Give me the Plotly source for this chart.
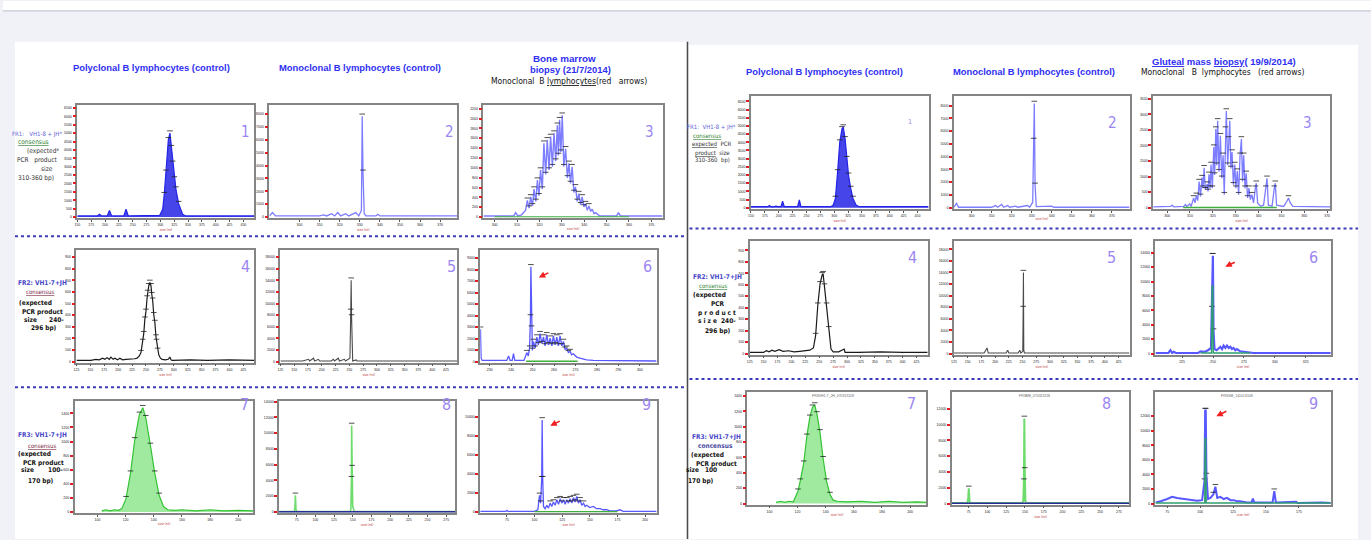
import plotly.graph_objects as go

W, H = 1371, 540

# ---------------- DATA (bp, signal as % of panel full scale) ----------------
# Left half (bone marrow biopsy, 21/7/2014)
L1_trace = [(150,1),(186,1),(190,2.5),(194,1),(204,1),(208,6),(212,1),(234,1),(238,7),(242,1),
            (298.7,1.5),(304.2,7),(307,20),(310.1,40),(314.4,69),(317.3,75),(320,62),(322.2,48),
            (325.3,34),(328.1,25),(333,12),(340.2,2.6),(346,1),(470,1)]
L2_trace = [(285,1),(286.5,4),(288,1),(310,1),(312,2),(313.5,1),(316,3),(317.5,1),(319,4),(320.5,1),
            (323,3),(324.5,1),(328,4),(329.5,1),(330.8,6),(331.2,90),(331.6,40),(332.2,3),(333,1),
            (338,1),(339,2.5),(340,1),(378.4,1)]
L3_trace = [(295,1),(305,1),(308.5,1),(309.4,4),(310.3,1),(312,2),(313.8,6),(314.6,15),(315.4,8),
            (316.1,18),(316.9,10),(317.6,25),(318.4,14),(319.1,33),(319.8,19),(320.5,42),(321.3,25),
            (322.0,66),(322.8,38),(323.5,69),(324.3,42),(325.0,72),(325.8,45),(326.5,75),(327.3,50),
            (328.0,82),(328.5,55),(329.0,87),(329.6,58),(330.2,91),(330.9,45),(331.7,61),(332.5,35),
            (333.2,48),(333.9,30),(334.6,45),(335.4,22),(336.1,27),(336.9,14),(337.6,21),(338.4,11),
            (339.1,18),(339.9,9),(340.6,12),(341.4,6),(342.1,10),(342.9,5),(343.6,7),(344.4,3),
            (345.1,4),(347,1),(350,1),(354.5,1),(355.3,4),(356.2,1),(360,1),(375,1)]
L4_trace = [(125,1),(151,1),(160,2),(166,1.5),(172,3),(176,2),(180,3.5),(184,2),(187,4),(191,2),
            (194,3),(199,1.5),(203,3),(208,1.5),(214,2),(223,2),(230,2.5),(234,3),(238,5),(241,8),
            (244,18),(246,25),(248,38),(250,45),(252,57),(253,62),(255,68),(257,71),(259,68),
            (260.5,60),(262,55),(264,42),(266,35),(268,22),(269,18),(271,10),(273,6),(276,3),
            (279,2),(285,1.5),(290,2),(293,4),(295,1.5),(297,1),(330,1.5),(360,1),(400,1.5),(445,1)]
L5_trace = [(125,0.5),(165,0.5),(176,2),(178,0.5),(185,3),(187,0.5),(194,2),(196,0.5),(217,0.5),
            (221,2),(223,0.5),(230,3),(232,0.5),(241,2),(243,0.5),(251,3),(252.5,45),(253.2,73),
            (254,40),(254.7,3),(256,0.5),(262,1.5),(264,0.5),(445,0.5)]
L6_trace = [(225.7,29),(226.0,3),(226.5,1),(238,1),(238.8,5),(239.5,1),(240.5,1),(241.1,7),
            (241.7,1),(246,1),(247.3,8),(248,5),(248.6,12),(249.0,40),(249.2,85),(249.5,30),
            (249.9,10),(250.4,18),(251.2,12),(252.0,22),(252.7,15),(253.5,25),(254.3,16),(255.1,22),
            (255.8,14),(256.6,24),(257.4,15),(258.2,21),(259.0,14),(259.7,23),(260.5,15),(261.3,22),
            (262.0,14),(262.8,23),(263.6,14),(264.4,18),(265.1,11),(265.9,12),(266.7,8),(267.5,9),
            (268.2,6),(269.0,7),(270.6,4),(272.1,3),(273.7,2),(275.2,1.5),(278.3,1),(307.8,0.5)]
L6_green = [(247,0.3),(271,0.3)]
L7_trace = [(103.1,1),(106,2),(109,1),(112,2),(115,1.5),(117.3,3),(120.3,12),(123.5,35),
            (126.5,65),(129.8,88),(132.2,94),(134.3,85),(137.6,60),(140.7,35),(143.8,15),
            (146.9,5),(149.9,2),(155,1.5),(160,2),(170,1),(180,2),(190,1),(200,1.5),(210.8,1)]
L8_trace = [(51.5,0.5),(72,0.5),(72.8,5),(73.3,15),(74,3),(75,0.5),(146,0.5),(147.5,2),
            (148.3,30),(148.6,78),(149.2,40),(150,5),(151,1),(152,0.5),(286.8,0.5)]
L8_blue = [(51.5,0.3),(286.8,0.3)]
L9_trace = [(50.9,0.5),(74,0.5),(75,1.5),(76,0.5),(100,0.5),(103,2),(104.5,15),(105.5,8),
            (106.5,30),(106.9,83),(107.4,30),(108.1,5),(109.6,3),(111.1,6),(112.6,3.5),(114.1,8),
            (115.6,5),(117.1,9),(118.6,6),(120.2,11),(121.7,7),(123.2,12),(124.7,8),(126.2,11),
            (127.7,7),(129.2,11),(130.7,8),(132.2,12),(133.7,8),(135.2,13),(136.7,9),(138.2,14),
            (139.7,8),(141.2,11),(142.7,6),(144.3,8),(145.8,5),(147.3,6),(150,4),(153.3,5),(156,3),
            (159.3,3),(162,2),(165.3,2),(168,1),(171.3,1),(174,1),(177.4,2),(180,0.5),(210.4,0.5)]

# Right half (gluteal mass biopsy, 19/9/2014)
R1_trace = [(150,1),(180,1),(183.3,2),(186,1),(192,1),(195.1,1.5),(198,1),(204,1),(207,6),(210,1),
            (234,1),(237.2,7),(240,1),(294,1),(298.2,2.4),(302.1,8.3),(306.1,32),(310.0,58.6),
            (314.0,70.4),(316.3,72),(319.6,61.5),(322.6,43.8),(325.8,29),(329.8,17.2),(333.8,8.3),
            (339.3,2.4),(345,1),(470,1)]
R2_trace = [(291.2,0.5),(292.5,4),(293.5,0.5),(310,0.5),(312,2),(313,0.5),(315,3),(316,0.5),
            (318,2),(319,0.5),(322,1.5),(323,0.5),(328,2),(329,0.5),(330.5,5),(331.0,60),
            (331.3,93),(331.7,20),(332.3,1),(340,1.5),(341,0.5),(378.8,0.5)]
R3_trace = [(293.9,0.9),(301.5,1.2),(302.2,2.3),(302.9,0.9),(307.3,1.2),(308.0,2.9),(308.7,1.2),
            (309.9,3.5),(310.5,1.2),(311.6,8.8),(312.2,4.4),(312.8,11.1),(313.4,6.4),(314.0,23.4),
            (314.6,10.2),(315.3,26.9),(315.7,17.5),(316.2,35.7),(316.7,16.1),(317.5,21.1),
            (317.9,14.6),(318.3,29.8),(318.8,17.5),(319.2,38.6),(319.8,17.5),(320.4,54.1),
            (320.8,29.2),(321.3,70.2),(321.7,38.0),(322.1,77.5),(322.7,32.2),(323.3,64.3),
            (323.9,26.3),(324.5,46.8),(325.0,11.7),(325.5,70.2),(325.9,86.3),(326.5,38.0),
            (326.9,61.4),(327.4,77.5),(327.9,35.1),(328.4,49.7),(329.0,20.5),(329.6,38.6),
            (330.1,17.5),(330.7,32.7),(331.3,11.7),(331.9,46.8),(332.5,61.4),(333.0,23.4),
            (333.5,46.8),(334.1,17.5),(334.6,30.7),(335.2,8.8),(335.8,17.5),(336.4,7.3),
            (337.1,11.7),(337.8,4.4),(338.6,17.5),(339.0,21.9),(339.6,4.4),(340.8,1.5),(342.2,2.3),
            (343.2,17.5),(343.7,26.3),(344.3,2.3),(345.9,1.5),(346.9,17.5),(347.3,21.9),(347.9,2.3),
            (351.0,1.2),(352.4,5.8),(353.1,8.8),(353.9,4.4),(355.0,1.2),(371.3,0.9)]
R3_green = [(307,0.3),(348,0.3)]
R4_trace = [(125,1),(150,1),(155,2.5),(160,1.5),(165,3),(170,2),(178,3.5),(185,2),(195,2.5),
            (205,1.5),(215,2),(225,2.5),(233,3),(239.6,5),(243.6,16),(247.5,43),(251.5,62),
            (255.4,70),(257.0,71),(259.4,60),(263.3,43),(267.3,22),(271.2,4),(275.2,1.5),(285,1.5),
            (294.9,4),(296.5,1),(320,1),(360,1.5),(400,1),(445,1)]
R5_trace = [(125,0.5),(180,0.5),(183,3),(185.4,5),(187.5,0.5),(220,0.5),(223,3),(225,0.5),
            (242,0.5),(245,3),(247,0.5),(250.5,2),(251.2,40),(251.7,72),(252.3,3),(253.5,0.5),(445,0.5)]
R6_trace = [(203.5,0.5),(214,0.5),(215.6,3),(217,0.5),(218.3,1.5),(220,0.5),(238,0.5),(240,2),
            (243,1.5),(246,3),(248.4,5),(249.0,40),(249.5,87),(249.9,87),(250.4,20),(251.2,4),
            (253,3),(255.9,6),(257.3,4),(258.6,7),(260,5),(261.3,7),(262.7,5),(264.0,6),(265.3,4),
            (266.6,5),(268,3),(269.3,4),(272.0,2),(277.4,1),(282.8,0.5),(345.2,0.5)]
R6_green = [(240,0.5),(248.8,0.5),(249.3,60),(249.8,60),(250.2,0.5),(280,0.5)]
R7_trace = [(104.7,1),(108,2),(111,1),(114,2),(117,1.5),(120.3,11),(121.9,20),(124.4,36),
            (126.6,60),(128.7,77),(130.6,86),(132.2,88),(133.8,80),(135.9,64),(138.2,40),
            (140.6,20),(143.1,8),(145.3,3),(148.4,2),(155,1.5),(165,2),(175,1),(185,2),(195,1),
            (205,1.5),(211.6,1)]
R8_trace = [(52.7,0.5),(73.5,0.5),(74.5,5),(75.3,13.5),(76.2,3),(77,0.5),(146,0.5),(147.8,2),
            (148.6,20),(149.2,76),(149.8,30),(150.6,2),(152,0.5),(288.5,0.5)]
R8_blue = [(52.7,0.3),(288.5,0.3)]
R9_trace = [(66.1,1),(70,2),(75,4),(78.7,6),(82.5,5),(87.6,4),(92.6,3),(97.7,2.5),(101.5,3),
            (103.3,20),(103.8,83),(104.3,83),(104.8,25),(106,4),(107.8,5),(110,8),(111.6,15),(113,5),
            (115.3,6),(118,4),(120.4,5),(123,3),(125.5,3),(128,2),(130.5,2),(135.5,1),(139,1),
            (140.1,4.4),(141,1),(155,1),(156.3,11),(157.5,1),(172.9,1.5),(174,0.5),(192.4,1),(199.2,0.5)]
R9_green = [(66.1,0.5),(103.5,0.5),(103.8,58),(104.2,58),(104.6,0.5),(199.2,0.5)]

# x tick labels (bp)
XT_FR1_POLY = [150,175,200,225,250,275,300,325,350,375,400,425,450]
XT_FR1_MONO = [300,310,320,330,340,350,360,370]
XT_FR2 = [125,150,175,200,225,250,275,300,325,350,375,400,425]
XT_FR2_BM = [230,240,250,260,270,280,290,300]
XT_FR2_GM = [225,250,275,300,325]
XT_FR3_POLY = [100,120,140,160,180,200]
XT_FR3_MONO = [75,100,125,150,175,200,225,250,275]
XT_FR3_BM = [75,100,125,150,175,200]
XT_FR3_GM = [75,100,125,150,175]

# y tick labels (RFU)
YT_L1 = [0,500,1000,1500,2000,2500,3000,3500,4000,4500,5000,5500,6000,6500]
YT_L2 = [0,1000,2000,3000,4000,5000,6000,7000,8000]
YT_L3 = [0,200,400,600,800,1000,1200,1400,1600,1800,2000,2200]
YT_L4 = [0,100,200,300,400,500,600,700,800,900]
YT_L5 = [0,2000,4000,6000,8000,10000,12000,14000,16000,18000]
YT_L6 = [0,1000,2000,3000,4000,5000,6000,7000,8000,9000]
YT_L7 = [0,200,400,600,800,1000,1200,1400]
YT_L8 = [0,2000,4000,6000,8000,10000,12000,14000]
YT_L9 = [0,2000,4000,6000,8000,10000]
YT_R1 = [0,500,1000,1500,2000,2500,3000,3500,4000,4500,5000,5500,6000,6500]
YT_R2 = [0,1000,2000,3000,4000,5000,6000,7000,8000]
YT_R3 = [0,500,1000,1500,2000,2500,3000,3500]
YT_R4 = [0,100,200,300,400,500,600,700,800,900]
YT_R5 = [0,2000,4000,6000,8000,10000,12000,14000,16000,18000]
YT_R6 = [0,2000,4000,6000,8000,10000,12000,14000]
YT_R7 = [0,200,400,600,800,1000,1200,1400]
YT_R8 = [0,2000,4000,6000,8000,10000,12000]
YT_R9 = [0,2000,4000,6000,8000,10000,12000]

PANEL_NUMBERS = ["1","2","3","4","5","6","7","8","9"]

# ---------------- STYLE / LAYOUT ----------------
BLUE_DARK = "#2424e6"
BLUE_LIGHT = "#7d7dff"
BLUE_MID = "#5858ff"
BLACK = "#1a1a1a"
GRAY = "#4a4a4a"
GREEN = "#34c234"
GREEN_L = "#6ddc6d"

panels = [
    dict(d=L1_trace, box=(74.5,252,104.5,218), xr=(150,470), xt=XT_FR1_POLY, yt=YT_L1, ys=7.5,
         color=BLUE_DARK, w=1.2, fill="rgba(36,36,230,0.85)", num=(237,120,15)),
    dict(d=L2_trace, box=(267,455,104.5,218), xr=(285,378.4), xt=XT_FR1_MONO, yt=YT_L2, ys=11.5,
         color=BLUE_LIGHT, w=1.3, fill=None, num=(441,120,15)),
    dict(d=L3_trace, box=(481.5,661,104.5,218), xr=(295,375), xt=XT_FR1_MONO, yt=YT_L3, ys=8.8,
         color=BLUE_LIGHT, w=1.4, fill=None, num=(648,120,15)),
    dict(d=L4_trace, box=(73.6,252,250,363), xr=(125,445), xt=XT_FR2, yt=YT_L4, ys=10.4,
         color=BLACK, w=1.2, fill=None, num=(237,266,16)),
    dict(d=L5_trace, box=(278,455,250,363), xr=(125,445), xt=XT_FR2, yt=YT_L5, ys=10.4,
         color=GRAY, w=1.1, fill=None, num=(443,266,16)),
    dict(d=L6_trace, box=(478.3,655,250,363), xr=(225.6,307.8), xt=XT_FR2_BM, yt=YT_L6, ys=10.3,
         color=BLUE_MID, w=1.3, fill=None, num=(646,266,16)),
    dict(d=L7_trace, box=(71.8,251,401.5,514), xr=(83.8,210.8), xt=XT_FR3_POLY, yt=YT_L7, ys=12.7,
         color=GREEN, w=1.2, fill="rgba(120,225,120,0.7)", num=(236,417,16)),
    dict(d=L8_trace, box=(276.7,453,401.5,514), xr=(51.5,286.8), xt=XT_FR3_MONO, yt=YT_L8, ys=14.2,
         color=GREEN_L, w=1.6, fill=None, num=(438,417,16)),
    dict(d=L9_trace, box=(478.3,655,401.5,514), xr=(50.9,210.4), xt=XT_FR3_BM, yt=YT_L9, ys=17.1,
         color=BLUE_MID, w=1.3, fill=None, num=(645,417,16)),
    dict(d=R1_trace, box=(749.6,927.6,95,208.7), xr=(150,470), xt=XT_FR1_POLY, yt=YT_R1, ys=7.3,
         color=BLUE_DARK, w=1.2, fill="rgba(36,36,230,0.85)", num=(909,115,7)),
    dict(d=R2_trace, box=(953,1129,95,208.7), xr=(291.2,378.8), xt=XT_FR1_MONO, yt=YT_R2, ys=11.4,
         color=BLUE_LIGHT, w=1.3, fill=None, num=(1118,111,15)),
    dict(d=R3_trace, box=(1152.7,1330,95,208.7), xr=(293.9,371.3), xt=XT_FR1_MONO, yt=YT_R3, ys=13.9,
         color=BLUE_LIGHT, w=1.3, fill=None, num=(1314,111,15)),
    dict(d=R4_trace, box=(748.3,926.7,241,355), xr=(125,445), xt=XT_FR2, yt=YT_R4, ys=10.2,
         color=BLACK, w=1.2, fill=None, num=(911,257,16)),
    dict(d=R5_trace, box=(953,1129,241,355), xr=(125,445), xt=XT_FR2, yt=YT_R5, ys=10.3,
         color=GRAY, w=1.1, fill=None, num=(1117,257,16)),
    dict(d=R6_trace, box=(1155,1330.7,241,355), xr=(203.5,345.2), xt=XT_FR2_GM, yt=YT_R6, ys=12.8,
         color=BLUE_MID, w=2.2, fill=None, num=(1320,257,16)),
    dict(d=R7_trace, box=(746.1,925.4,392,505.5), xr=(84.4,211.6), xt=XT_FR3_POLY, yt=YT_R7, ys=13.7,
         color=GREEN, w=1.2, fill="rgba(120,225,120,0.7)", num=(910,416,16)),
    dict(d=R8_trace, box=(950.9,1128.5,392,505.5), xr=(52.7,288.5), xt=XT_FR3_MONO, yt=YT_R8, ys=14.1,
         color=GREEN_L, w=2.0, fill=None, num=(1112,416,16)),
    dict(d=R9_trace, box=(1155,1330.7,392,505.5), xr=(66.1,199.2), xt=XT_FR3_GM, yt=YT_R9, ys=13.0,
         color=BLUE_MID, w=2.0, fill=None, num=(1320,416,16)),
]
panel_labels = PANEL_NUMBERS * 2

extras = [  # (panel index 0-based, data, color, width)
    (5, L6_green, "#3fae3f", 1.5),
    (7, L8_blue, "#2a2a9a", 1.5),
    (11, R3_green, "#3fae3f", 1.5),
    (14, R6_green, "#2f9f6f", 1.4),
    (16, R8_blue, "#2a2a9a", 1.5),
    (17, R9_green, "#2f9f6f", 1.4),
    (2, [(300,0.3),(360,0.3)], "#3fae3f", 1.2),
    (8, [(100,0.3),(175,0.3)], "#3fae3f", 1.2),
]

fig = go.Figure()
layout = {}
annotations = []
NARROW = "Liberation Sans Narrow, Arial Narrow, DejaVu Sans Condensed, sans-serif"
SANS = "Liberation Sans, Arial, sans-serif"

for i, p in enumerate(panels, start=1):
    xs = [a for a, b in p["d"]]
    ys = [b for a, b in p["d"]]
    xa = "x" if i == 1 else f"x{i}"
    ya = "y" if i == 1 else f"y{i}"
    fig.add_trace(go.Scatter(
        x=xs, y=ys, xaxis=xa, yaxis=ya, mode="lines",
        line=dict(color=p["color"], width=p["w"]),
        fill="tozeroy" if p["fill"] else None, fillcolor=p["fill"],
        hoverinfo="skip", showlegend=False))
    lx = [a for a, b in p["d"] if b >= 8]
    ly = [b + 2 for a, b in p["d"] if b >= 8]
    fig.add_trace(go.Scatter(
        x=lx, y=ly, xaxis=xa, yaxis=ya, mode="markers",
        marker=dict(symbol="line-ew", size=4, line=dict(color="#222222", width=0.8)),
        hoverinfo="skip", showlegend=False))
    l, r, t, b = p["box"]
    layout["xaxis" if i == 1 else f"xaxis{i}"] = dict(
        domain=[l / W, r / W], anchor=ya, range=list(p["xr"]),
        tickvals=p["xt"], ticktext=[str(v) for v in p["xt"]],
        tickfont=dict(size=3.5, color="#222", family=SANS), ticks="outside", ticklen=2,
        tickcolor="#555", tickwidth=1,
        showline=True, mirror=True, linecolor="#858585", linewidth=1.6,
        showgrid=False, zeroline=False,
        title=dict(text="size (nt)", font=dict(size=3.5, color="#b83030"), standoff=1))
    layout["yaxis" if i == 1 else f"yaxis{i}"] = dict(
        domain=[1 - b / H, 1 - t / H], anchor=xa, range=[-1, 100],
        tickvals=[k * p["ys"] for k in range(len(p["yt"]))],
        ticktext=[str(v) for v in p["yt"]],
        tickfont=dict(size=3.5, color="#222", family=SANS), ticks="outside", ticklen=3,
        tickcolor="#e02020", tickwidth=2,
        showline=True, mirror=True, linecolor="#858585", linewidth=1.6,
        showgrid=False, zeroline=False)
    nx, ny, ns = p["num"]
    annotations.append(dict(x=nx / W, y=1 - ny / H, xref="paper", yref="paper",
                            text=panel_labels[i - 1], showarrow=False,
                            font=dict(size=ns, color="#9b86f2", family=NARROW)))

for idx, dd, col, wd in extras:
    i = idx + 1
    xa = "x" if i == 1 else f"x{i}"
    ya = "y" if i == 1 else f"y{i}"
    fig.add_trace(go.Scatter(x=[a for a, b in dd], y=[b for a, b in dd], xaxis=xa, yaxis=ya,
                             mode="lines", line=dict(color=col, width=wd),
                             hoverinfo="skip", showlegend=False))

def txt(x, y, s, size=6, color="#222", bold=False, family=SANS, anchor="center"):
    if bold:
        s = f"<b>{s}</b>"
    annotations.append(dict(x=x / W, y=1 - y / H, xref="paper", yref="paper", text=s,
                            showarrow=False, xanchor=anchor, yanchor="middle",
                            font=dict(size=size, color=color, family=family)))

HB = "#2f2ff2"
# headers left
txt(148.5, 67, "Polyclonal B lymphocytes (control)", 9.4, HB, True)
txt(358, 67, "Monoclonal B lymphocytes (control)", 9.4, HB, True)
txt(563, 57.5, "Bone marrow", 9.8, HB, True)
txt(569, 69, "biopsy (21/7/2014)", 9.4, HB, True)
txt(567, 80, "Monoclonal  B <u>lymphocytes</u>(red   arrows)", 8.5, "#111", False, NARROW)
# headers right
txt(823, 70.5, "Polyclonal B lymphocytes (control)", 9.4, HB, True)
txt(1033, 70.5, "Monoclonal B lymphocytes (control)", 9.4, HB, True)
txt(1224, 61, "<u>Gluteal</u> mass <u>biopsy</u>( 19/9/2014)", 9.5, HB, True)
txt(1223, 71.5, "Monoclonal   B  lymphocytes   (red arrows)", 8.5, "#111", False, NARROW)

# left side labels, left half
txt(34, 133, "FR1:   VH1-8 + JH*", 6, "#6464d6", False, NARROW)
txt(31, 142, "<u>consensus</u>", 6.5, "#2f7f2f", False, NARROW)
txt(40, 151, "(expected*", 6.5, "#333", False, NARROW)
txt(34, 160, "PCR   product", 6.5, "#333", False, NARROW)
txt(44, 169, "size", 6.5, "#333", False, NARROW)
txt(33, 178, "310-360 bp)", 6.5, "#333", False, NARROW)

txt(40, 283.5, "FR2: VH1-7+JH", 6.5, "#4848c8", True, NARROW)
txt(37, 292, "<u>consensus</u>", 6, "#7a2040", False, NARROW)
txt(33, 303, "(expected", 6.5, "#111", True, NARROW)
txt(40, 312, "PCR product", 6.5, "#111", True, NARROW)
txt(41, 320.5, "size      240-", 6.5, "#111", True, NARROW)
txt(41, 328, "296 bp)", 6.5, "#111", True, NARROW)

txt(40, 436, "FR3: VH1-7+JH", 6.5, "#4848c8", True, NARROW)
txt(39, 446, "<u>consensus</u>", 6, "#7a2040", False, NARROW)
txt(32, 454.5, "(expected", 6.5, "#111", True, NARROW)
txt(41, 463.5, "PCR product", 6.5, "#111", True, NARROW)
txt(39, 471, "size       100-", 6.5, "#111", True, NARROW)
txt(38, 482, "170 bp)", 6.5, "#111", True, NARROW)

# left side labels, right half
txt(710, 126, "FR1:  VH1-8 + JH*", 6, "#6464d6", False, NARROW)
txt(706, 134.5, "<u>consensus</u>", 6, "#2f7f2f", False, NARROW)
txt(710, 143.5, "<u>expected</u>  PCR", 6, "#333", False, NARROW)
txt(711, 152.5, "<u>product</u>  size", 6, "#333", False, NARROW)
txt(711, 159.5, "310-360  bp)", 6, "#333", False, NARROW)

txt(716, 277, "FR2: VH1-7+JH", 6.5, "#4848c8", True, NARROW)
txt(712, 286, "<u>consensus</u>", 6, "#2f7f2f", False, NARROW)
txt(708, 295, "(expected", 6.5, "#111", True, NARROW)
txt(717, 304, "PCR", 6.5, "#111", True, NARROW)
txt(716, 313, "p r o d u c t", 6.5, "#111", True, NARROW)
txt(716, 321.5, "s i z e  240-", 6.5, "#111", True, NARROW)
txt(717, 331, "296 bp)", 6.5, "#111", True, NARROW)

txt(715, 438, "FR3: VH1-7+JH", 6.5, "#4848c8", True, NARROW)
txt(714, 447, "concensus", 6.5, "#4848a0", True, NARROW)
txt(706, 455.5, "(expected", 6.5, "#111", True, NARROW)
txt(715, 464.5, "PCR product", 6.5, "#111", True, NARROW)
txt(700, 471, "size   100", 6.5, "#111", True, NARROW)
txt(700, 482, "170 bp)", 6.5, "#111", True, NARROW)

# small run titles inside right FR3 panels
txt(832, 396.5, "FR3VH1-7_JH_070313118", 3.5, "#666")
txt(1034, 396.5, "FR3BM_070313118", 3.5, "#666")
txt(1237, 396.5, "FR3GM_141013108", 3.5, "#666")

# red arrows
for hx, hy, tx, ty in [(537, 277.5, 548, 272.2), (548.5, 426.3, 559.5, 421),
                       (1225, 266.7, 1236, 261.5), (1216, 416.7, 1227.5, 411)]:
    annotations.append(dict(x=hx / W, y=1 - hy / H, xref="paper", yref="paper", text="",
                            showarrow=True, ax=tx - hx, ay=ty - hy, arrowhead=2, arrowsize=0.8,
                            arrowwidth=1.6, arrowcolor="#f02020"))

shapes = [
    dict(type="rect", xref="paper", yref="paper", x0=0, x1=1, y0=1 - 10 / H, y1=1,
         fillcolor="white", line=dict(width=0), layer="below"),
    dict(type="line", xref="paper", yref="paper", x0=0, x1=1, y0=1 - 10 / H, y1=1 - 10 / H,
         line=dict(color="#c6c9d3", width=1.2)),
    dict(type="rect", xref="paper", yref="paper", x0=12 / W, x1=685 / W, y0=0, y1=1 - 41 / H,
         fillcolor="white", line=dict(width=0), layer="below"),
    dict(type="rect", xref="paper", yref="paper", x0=687 / W, x1=1358 / W, y0=0, y1=1 - 44 / H,
         fillcolor="white", line=dict(width=0), layer="below"),
    dict(type="line", xref="paper", yref="paper", x0=686 / W, x1=686 / W, y0=0, y1=1 - 41 / H,
         line=dict(color="#4a4a4a", width=1.5)),
]
for y0, xa0, xa1 in [(236, 12, 685), (387.7, 12, 685), (228.3, 688, 1358), (379.3, 688, 1358)]:
    shapes.append(dict(type="line", xref="paper", yref="paper", x0=xa0 / W, x1=xa1 / W,
                       y0=1 - y0 / H, y1=1 - y0 / H, line=dict(color="#3b3bb8", width=2, dash="dot")))

fig.update_layout(
    width=W, height=H, margin=dict(l=0, r=0, t=0, b=0),
    paper_bgcolor="#f1f2f7", plot_bgcolor="white",
    shapes=shapes, annotations=annotations, showlegend=False,
    **layout)

fig.write_html("out.html", config={"displayModeBar": False},
               post_script="document.body.style.margin='0';document.body.style.overflow='hidden';")
